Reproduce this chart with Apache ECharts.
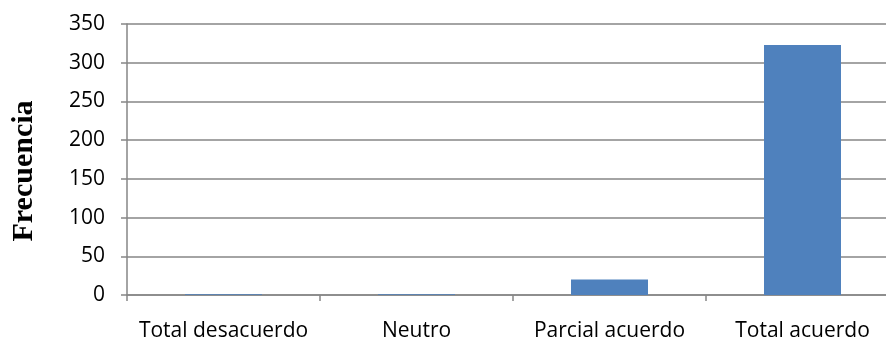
<!DOCTYPE html>
<html>
<head>
<meta charset="utf-8">
<script src="https://cdn.jsdelivr.net/npm/echarts@6/dist/echarts.min.js"></script>
<style>
  html, body { margin: 0; padding: 0; background: #fff; }
  #chart { width: 886px; height: 341px; }
</style>
</head>
<body>
<div id="chart"></div>
<script>
// Respuestas por nivel de acuerdo
const categories = ['Total desacuerdo', 'Neutro', 'Parcial acuerdo', 'Total acuerdo'];
const frecuencias = [1, 1, 20, 323];
const yTicks = { min: 0, max: 350, step: 50 };
const yTitle = 'Frecuencia';

const chart = echarts.init(document.getElementById('chart'));
chart.setOption({
  animation: false,
  // the plot area runs slightly past the right edge of the canvas
  grid: { left: 127, width: 772, top: 24, bottom: 46, outerBoundsMode: 'none', containLabel: false },
  graphic: [{
    type: 'text',
    x: 24,
    y: 171,
    rotation: Math.PI / 2,
    style: {
      text: yTitle,
      fontFamily: 'Liberation Serif',
      fontWeight: 'bold',
      fontSize: 30,
      fill: '#000',
      align: 'center',
      verticalAlign: 'middle'
    }
  }],
  xAxis: {
    type: 'category',
    data: categories,
    axisLine: { lineStyle: { color: '#868686', width: 1.5 } },
    axisTick: { show: true, length: 6, interval: 0, alignWithLabel: false, lineStyle: { color: '#868686', width: 1.5 } },
    axisLabel: { color: '#000', fontFamily: 'Open Sans', fontSize: 21, margin: 26, interval: 0, hideOverlap: false }
  },
  yAxis: {
    type: 'value',
    min: yTicks.min,
    max: yTicks.max,
    interval: yTicks.step,
    axisLine: { show: true, lineStyle: { color: '#868686', width: 1.5 } },
    axisTick: { show: true, length: 6, lineStyle: { color: '#868686', width: 1.5 } },
    axisLabel: { color: '#000', fontFamily: 'Open Sans', fontSize: 21, margin: 22 },
    splitLine: { show: true, lineStyle: { color: '#868686', width: 1.5 } }
  },
  series: [{
    type: 'bar',
    data: frecuencias,
    barWidth: 77,
    itemStyle: { color: '#4F81BD' }
  }]
});
</script>
</body>
</html>
